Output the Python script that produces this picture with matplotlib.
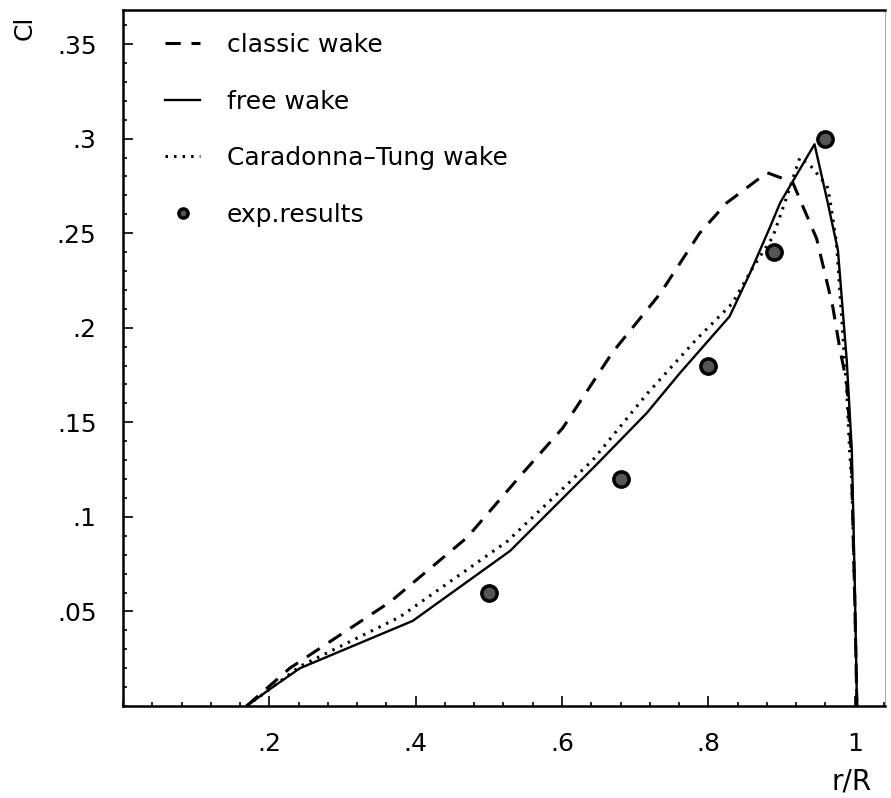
import matplotlib
matplotlib.use('Agg')
import matplotlib.pyplot as plt
from matplotlib.ticker import MultipleLocator, FixedLocator, FixedFormatter

# spanwise lift distribution
classic_x = [0.169, 0.228, 0.365, 0.470, 0.546, 0.601, 0.669, 0.734, 0.788, 0.825,
             0.880, 0.915, 0.948, 0.970, 0.980, 0.989, 0.995, 1.000, 1.003]
classic_y = [0.000, 0.020, 0.055, 0.089, 0.123, 0.147, 0.187, 0.218, 0.250, 0.266,
             0.282, 0.277, 0.247, 0.211, 0.188, 0.171, 0.135, 0.056, 0.000]

free_x = [0.169, 0.201, 0.242, 0.396, 0.529, 0.648, 0.716, 0.761, 0.829, 0.857,
          0.884, 0.898, 0.945, 0.962, 0.977, 0.989, 0.996, 1.000, 1.003]
free_y = [0.000, 0.009, 0.020, 0.045, 0.082, 0.128, 0.155, 0.176, 0.206, 0.229,
          0.253, 0.266, 0.297, 0.268, 0.241, 0.183, 0.135, 0.065, 0.000]

ct_x = [0.169, 0.201, 0.242, 0.378, 0.525, 0.642, 0.716, 0.784, 0.833, 0.861,
        0.888, 0.907, 0.925, 0.941, 0.962, 0.966, 0.975, 0.989, 0.993, 0.996, 1.000, 1.003]
ct_y = [0.000, 0.009, 0.021, 0.047, 0.087, 0.130, 0.165, 0.194, 0.213, 0.232,
        0.248, 0.269, 0.290, 0.285, 0.275, 0.268, 0.245, 0.167, 0.135, 0.118, 0.056, 0.000]

exp_x = [0.50, 0.68, 0.80, 0.89, 0.96]
exp_y = [0.06, 0.12, 0.18, 0.24, 0.30]

xticks = [0.2, 0.4, 0.6, 0.8, 1.0]
xtick_labels = ['.2', '.4', '.6', '.8', '1']
yticks = [0.05, 0.1, 0.15, 0.2, 0.25, 0.3, 0.35]
ytick_labels = ['.05', '.1', '.15', '.2', '.25', '.3', '.35']

fig = plt.figure(figsize=(8.91, 7.98), dpi=100)
ax = fig.add_axes([0.138, 0.1153, 0.855, 0.8722])

ax.plot(classic_x, classic_y, color='black', lw=2.2, dashes=(5, 3.5), label='classic wake')
ax.plot(free_x, free_y, color='black', lw=1.7, label='free wake')
ax.plot(ct_x, ct_y, color='black', lw=2.2, linestyle=(0, (0.8, 2.0)), label='Caradonna\u2013Tung wake')
ax.plot(exp_x, exp_y, linestyle='none', marker='o', ms=11, mfc='#555555', mec='black',
        mew=2.5, label='exp.results')

ax.set_xlim(0, 1.041)
ax.set_ylim(0, 0.368)

ax.xaxis.set_major_locator(FixedLocator(xticks))
ax.xaxis.set_major_formatter(FixedFormatter(xtick_labels))
ax.yaxis.set_major_locator(FixedLocator(yticks))
ax.yaxis.set_major_formatter(FixedFormatter(ytick_labels))
ax.xaxis.set_minor_locator(MultipleLocator(0.04))
ax.yaxis.set_minor_locator(MultipleLocator(0.01))

ax.tick_params(which='both', direction='in', top=False, right=False, width=1.2)
ax.tick_params(which='major', length=7, labelsize=18)
ax.tick_params(which='minor', length=3)
ax.tick_params(axis='y', which='major', pad=19)
ax.tick_params(axis='x', which='major', pad=19)

for side in ['left', 'bottom', 'top']:
    ax.spines[side].set_linewidth(1.8)
ax.spines['right'].set_color('#aaaaaa')
ax.spines['right'].set_linewidth(0.8)

leg = ax.legend(loc='upper left', bbox_to_anchor=(0.026, 0.999), frameon=False,
                fontsize=18, handlelength=1.4, handletextpad=1.05, labelspacing=1.3,
                numpoints=1, markerscale=0.6)

fig.text(25 / 891, 1 - 28 / 798, 'Cl', rotation=90, fontsize=18, ha='center', va='center')
fig.text(832 / 891, 1 - 782 / 798, 'r/R', fontsize=20, ha='left', va='center')

plt.savefig('out.png', dpi=100)
